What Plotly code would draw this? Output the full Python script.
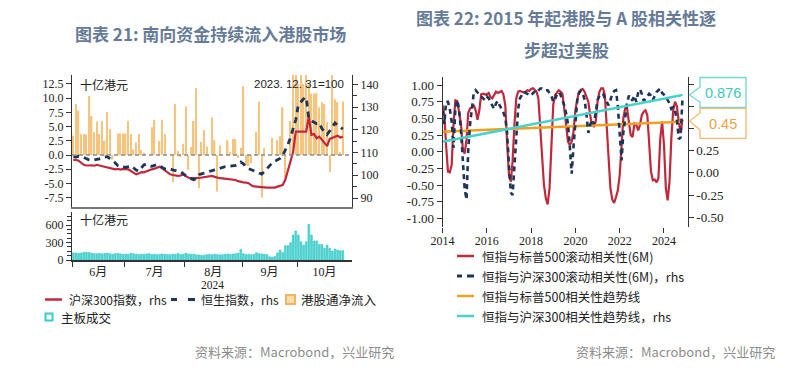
import plotly.graph_objects as go
import pandas as pd

W, H = 800, 377
def px(x): return x / W
def py(y): return 1 - y / H

# ---------------- Left chart data (daily, trading days from 2024-06-03) ----------------
flow_net = [3.4, 9.0, 7.8, 3.7, 3.7, 3.6, 10.4, 6.9, 4.0, 5.9, 3.7, 6.0, 2.5, 7.6, 4.6, -0.8, 0.0, 3.8, 3.8, 3.8,
            3.8, 6.0, 3.7, 1.0, 2.2, 3.7, 0.9, 0.4, 0.0, 0.0, 4.9, 6.2, 0.0, 2.5, 6.2, 3.7, 0.0, 0.0, -4.8, 9.0,
            0.7, -0.3, 2.0, 8.6, -2.6, 1.4, 6.0, 11.8, -5.8, 2.3, 4.4, 1.5, 0.0, 6.6, 2.6, -6.4, 1.7, 0.0, 0.0, 2.6,
            0.5, 2.8, 2.8, -0.5, 1.3, 12.1, -1.9, -1.9, -1.5, 0.0, 4.1, 9.4, -7.5, 1.2, 0.0, 0.0, 3.0, 0.0, 2.6, 3.3,
            8.4, -4.0, 0.0, 6.0, 14.5, 14.5, 12.5, 14.5, 12.5, 14.5, 12.5, 10.8, 10.8, 10.9, 8.4, 9.3, 9.0, 5.8, -3.0, 14.5,
            9.8, 9.3, 0.5, 9.4]
csi300 = [106.6, 106.8, 106.4, 105.6, 104.6, 104.3, 104.5, 104.4, 104.2, 104.6, 104.3, 104.0, 103.8, 103.5, 103.3, 102.9, 102.6, 102.8, 102.5, 102.8,
          102.7, 102.6, 101.9, 101.2, 100.4, 100.8, 101.4, 101.3, 101.8, 102.2, 102.6, 102.9, 103.4, 103.8, 103.0, 102.2, 101.3, 100.4, 100.1, 99.9,
          99.7, 99.9, 100.4, 99.6, 98.9, 98.8, 98.6, 98.7, 98.8, 99.0, 99.2, 99.5, 99.4, 99.7, 99.3, 98.9, 98.7, 98.6, 98.5, 98.4,
          98.3, 98.3, 97.9, 97.4, 97.0, 96.9, 96.8, 96.5, 95.6, 95.1, 95.0, 94.8, 94.7, 94.7, 94.6, 94.5, 94.4, 94.6, 95.0, 95.3,
          95.7, 98.0, 102.0, 105.5, 110.2, 119.2, 119.2, 119.2, 119.2, 119.2, 125.9, 117.8, 118.1, 116.3, 117.0, 115.5, 114.0, 112.8, 116.0, 116.5,
          117.0, 117.4, 116.6, 116.9]
hsi = [108.1, 108.0, 108.4, 108.3, 107.8, 107.2, 106.8, 106.6, 106.7, 107.0, 107.2, 107.4, 108.0, 108.2, 107.3, 106.8, 105.5, 104.2, 103.6, 103.7,
       103.5, 103.8, 104.2, 103.3, 102.3, 101.8, 103.2, 104.6, 104.9, 104.2, 103.9, 104.4, 104.7, 104.0, 103.2, 102.8, 102.5, 102.8, 102.4, 102.0,
       101.8, 101.6, 100.6, 99.6, 98.9, 98.5, 98.0, 98.6, 100.2, 100.6, 101.0, 101.5, 101.8, 102.1, 102.4, 102.7, 103.1, 103.5, 103.8, 103.9,
       104.0, 104.2, 104.3, 104.9, 105.8, 105.0, 103.6, 102.9, 102.4, 101.8, 101.3, 101.0, 100.5, 101.6, 102.9, 104.4, 105.4, 106.2, 106.9, 107.4,
       108.6, 110.8, 113.5, 116.5, 120.0, 124.4, 131.0, 132.4, 133.6, 134.3, 125.0, 124.0, 123.5, 122.7, 123.0, 120.5, 119.2, 117.9, 119.5, 121.5,
       123.0, 122.0, 121.0, 120.3]
turnover = [125, 118, 115, 120, 132, 135, 128, 118, 112, 108, 115, 105, 112, 120, 108, 100, 110, 115, 105, 100,
            102, 98, 115, 110, 100, 95, 98, 100, 105, 110, 95, 100, 92, 98, 105, 100, 95, 90, 102, 98,
            110, 95, 100, 118, 105, 98, 102, 90, 85, 80, 82, 92, 98, 90, 100, 95, 88, 92, 100, 105,
            95, 102, 110, 115, 183, 110, 95, 100, 90, 98, 125, 110, 105, 100, 95, 55, 50, 60, 120, 171,
            130, 245, 245, 297, 428, 497, 428, 314, 257, 314, 611, 428, 326, 326, 268, 268, 200, 257, 200, 154,
            188, 171, 160, 160]
n = len(flow_net)
idx = list(range(n))
dates = pd.bdate_range('2024-06-03', periods=n)
month_names = ['6月', '7月', '8月', '9月', '10月']
x_lo, x_hi = -0.5, 106.5
starts = [i for i in range(1, n) if dates[i].month != dates[i - 1].month]
bounds = [x_lo] + [s - 0.5 for s in starts]
centers = [(bounds[k] + (bounds[k + 1] if k + 1 < len(bounds) else x_hi)) / 2 for k in range(len(bounds))]

left_ticks = [-7.5, -5.0, -2.5, 0.0, 2.5, 5.0, 7.5, 10.0, 12.5]
right_ticks = [90, 100, 110, 120, 130, 140]

# ---------------- Right chart data (monthly) ----------------
corr_spx = [0.70, 0.55, 0.10, -0.30, -0.31, -0.20, 0.40, 0.77, 0.76, 0.62, 0.42, 0.05,
            -0.03, 0.18, 0.58, 0.65, 0.66, 0.70, 0.62, 0.48, 0.62, 0.86, 0.87, 0.86,
            0.86, 0.88, 0.82, 0.80, 0.86, 0.90, 0.88, 0.90, 0.91, 0.86, 0.70, 0.15,
            -0.35, -0.45, -0.15, 0.40, 0.80, 0.90, 0.91, 0.90, 0.89, 0.90, 0.92, 0.91,
            0.94, 0.95, 0.93, 0.90, 0.80, 0.35, -0.10, -0.50, -0.70, -0.79, -0.55, 0.20,
            0.70, 0.85, 0.88, 0.92, 0.90, 0.87, 0.65, 0.35, 0.15, 0.10, 0.15, 0.30,
            0.62, 0.78, 0.90, 0.93, 0.94, 0.90, 0.83, 0.75, 0.55, 0.40, 0.38, 0.45,
            0.75, 0.90, 0.95, 0.95, 0.85, 0.40, -0.10, -0.55, -0.72, -0.77, -0.68, -0.58,
            -0.35, 0.10, 0.50, 0.65, 0.66, 0.45, 0.25, 0.22, 0.42, 0.40, 0.32, 0.40,
            0.55, 0.60, 0.62, 0.55, 0.20, -0.30, -0.43, -0.42, -0.46, -0.40, 0.20, 0.45,
            0.10, -0.55, -0.73, -0.45, 0.20, 0.62, 0.75, 0.68, 0.45, 0.28, 0.48]
corr_csi = [0.70, 0.55, 0.80, 0.80, 0.72, 0.58, 0.28, 0.72, 0.82, 0.72, 0.48, 0.12,
            -0.18, -0.30, 0.25, 0.55, 0.75, 0.90, 0.93, 0.90, 0.88, 0.86, 0.84, 0.82,
            0.86, 0.84, 0.80, 0.76, 0.72, 0.78, 0.81, 0.76, 0.72, 0.68, 0.62, 0.45,
            0.09, -0.22, -0.25, 0.05, 0.42, 0.72, 0.84, 0.88, 0.91, 0.90, 0.89, 0.88,
            0.87, 0.90, 0.91, 0.90, 0.93, 0.95, 0.95, 0.94, 0.93, 0.93, 0.90, 0.87,
            0.80, 0.83, 0.88, 0.91, 0.88, 0.82, 0.76, 0.67, 0.55, 0.30, -0.01, 0.30,
            0.62, 0.82, 0.90, 0.92, 0.90, 0.82, 0.66, 0.45, 0.54, 0.60, 0.55, 0.70,
            0.82, 0.87, 0.88, 0.89, 0.84, 0.80, 0.76, 0.82, 0.89, 0.92, 0.93, 0.75,
            0.42, 0.14, 0.45, 0.62, 0.78, 0.87, 0.82, 0.82, 0.87, 0.80, 0.90, 0.94,
            0.89, 0.81, 0.83, 0.86, 0.89, 0.87, 0.82, 0.86, 0.91, 0.93, 0.95, 0.90,
            0.88, 0.86, 0.82, 0.78, 0.72, 0.74, 0.70, 0.60, 0.38, 0.40, 0.84]
mdates = pd.date_range('2014-01-01', periods=len(corr_spx), freq='MS')
trend_spx = [0.30, 0.45]
trend_csi = [0.35, 0.876]
trend_x = [mdates[0], mdates[-1]]
year_ticks = ['2014', '2016', '2018', '2020', '2022', '2024']
r_left_ticks = [-1.0, -0.75, -0.5, -0.25, 0.0, 0.25, 0.5, 0.75, 1.0]
r_right_ticks = [-0.5, -0.25, 0.0, 0.25, 0.5, 0.75, 1.0]

RED = '#C0283C'
NAVY = '#1D3557'
ORANGE_BAR = '#F5C47E'
TEAL_BAR = '#52D6D4'
ORANGE = '#F0A020'
TEAL = '#45D3CC'
SERIF = 'Liberation Serif'
CJK = 'Noto Sans CJK SC'
AX = '#333333'

fig = go.Figure()
fig.add_trace(go.Bar(x=idx, y=flow_net, xaxis='x', yaxis='y', marker=dict(color=ORANGE_BAR, line=dict(width=0)),
                     width=0.55, name='港股通净流入', showlegend=False))
fig.add_trace(go.Scatter(x=idx, y=csi300, xaxis='x', yaxis='y2', mode='lines', line=dict(color=RED, width=2.2),
                         name='沪深300指数, rhs', showlegend=False))
fig.add_trace(go.Scatter(x=idx, y=hsi, xaxis='x', yaxis='y2', mode='lines',
                         line=dict(color=NAVY, width=2.8, dash='6px,5px'), name='恒生指数, rhs', showlegend=False))
fig.add_trace(go.Bar(x=idx, y=turnover, xaxis='x2', yaxis='y3', marker=dict(color=TEAL_BAR, line=dict(color='#2EC2C0', width=0.5)),
                     width=0.7, name='主板成交', showlegend=False))

fig.add_trace(go.Scatter(x=mdates, y=corr_spx, xaxis='x3', yaxis='y4', mode='lines', line=dict(color=RED, width=2.2),
                         name='恒指与标普500滚动相关性(6M)', showlegend=False))
fig.add_trace(go.Scatter(x=mdates, y=corr_csi, xaxis='x3', yaxis='y5', mode='lines',
                         line=dict(color=NAVY, width=2.6, dash='5px,4px'), name='恒指与沪深300滚动相关性(6M), rhs', showlegend=False))
fig.add_trace(go.Scatter(x=trend_x, y=trend_spx, xaxis='x3', yaxis='y4', mode='lines', line=dict(color=ORANGE, width=2.5),
                         name='恒指与标普500相关性趋势线', showlegend=False))
fig.add_trace(go.Scatter(x=trend_x, y=trend_csi, xaxis='x3', yaxis='y5', mode='lines', line=dict(color=TEAL, width=2.5),
                         name='恒指与沪深300相关性趋势线, rhs', showlegend=False))

tf = dict(family=SERIF, size=12, color='#222')
common = dict(showgrid=False, zeroline=False)
# right-axis labels of the right chart that sit behind the callout boxes are left blank
r_right_text = [f'{v:.2f}' if v < 0.45 else '' for v in r_right_ticks]
fig.update_layout(
    width=W, height=H, margin=dict(l=0, r=0, t=0, b=0, autoexpand=False),
    paper_bgcolor='white', plot_bgcolor='white', bargap=0.3, showlegend=False,
    xaxis=dict(domain=[px(72), px(352)], range=[x_lo, x_hi], anchor='y', showticklabels=False, ticks='',
               showline=True, linecolor='#777', linewidth=2, **common),
    yaxis=dict(domain=[py(207), py(75)], range=[-9.14, 14.08], anchor='x', tickmode='array', tickvals=left_ticks,
               ticktext=[f'{v:.1f}' for v in left_ticks], ticks='outside', ticklen=5, tickcolor=AX,
               showline=True, linecolor=AX, linewidth=1, tickfont=tf, **common),
    yaxis2=dict(overlaying='y', side='right', anchor='x', range=[86.04, 144.09], tickmode='array', tickvals=right_ticks,
                ticktext=[str(v) for v in right_ticks], ticks='outside', ticklen=5, tickcolor=AX,
                minor=dict(tickmode='array', tickvals=[95, 105, 115, 125, 135], ticks='outside', ticklen=4, tickcolor=AX),
                showline=True, linecolor=AX, linewidth=1, tickfont=tf, **common),
    xaxis2=dict(domain=[px(72), px(352)], range=[x_lo, x_hi], anchor='y3', tickmode='array', tickvals=centers,
                ticktext=month_names, ticks='', ticklabelstandoff=0,
                minor=dict(tickmode='array', tickvals=bounds, ticks='outside', ticklen=5, tickcolor=AX),
                showline=True, linecolor=AX, linewidth=1.5, tickfont=dict(family=SERIF + ', ' + CJK, size=12, color='#222'), **common),
    yaxis3=dict(domain=[py(260), py(212)], range=[0, 823], anchor='x2', tickmode='array', tickvals=[0, 300, 600],
                ticktext=['0', '300', '600'], ticks='outside', ticklen=5, tickcolor=AX,
                minor=dict(tickmode='array', tickvals=[75, 150, 225, 375, 450, 525, 675, 750], ticks='outside', ticklen=4, tickcolor=AX),
                showline=True, linecolor=AX, linewidth=1, tickfont=tf, **common),
    xaxis3=dict(domain=[px(442.5), px(687.7)], type='date', range=['2014-01-01', '2025-01-26'], anchor='y4',
                tickmode='array', tickvals=[f'{y}-01-01' for y in year_ticks], ticktext=year_ticks,
                ticks='outside', ticklen=5, tickcolor=AX, showline=False, tickfont=tf, ticklabelstandoff=-2, **common),
    yaxis4=dict(domain=[py(227), py(77)], range=[-1.13, 1.12], anchor='x3', tickmode='array', tickvals=r_left_ticks,
                ticktext=[f'{v:.2f}' for v in r_left_ticks], ticks='outside', ticklen=5, tickcolor=AX,
                showline=True, linecolor=AX, linewidth=1, tickfont=dict(family=SERIF, size=13, color='#222'), **common),
    yaxis5=dict(overlaying='y4', side='right', anchor='x3', range=[-0.609, 1.079], tickmode='array', tickvals=r_right_ticks,
                ticktext=r_right_text, ticks='outside', ticklen=5, tickcolor=AX,
                showline=True, linecolor=AX, linewidth=1, tickfont=dict(family=SERIF, size=13, color='#222'), **common),
)

shapes = []
shapes.append(dict(type='line', xref='x domain', yref='y', x0=0, x1=1, y0=0, y1=0,
                   line=dict(color='#8a8a8a', width=1.5, dash='4px,3px')))

def hline(x0, x1, y, color, width=2.5):
    return dict(type='line', xref='paper', yref='paper', x0=px(x0), x1=px(x1), y0=py(y), y1=py(y),
                line=dict(color=color, width=width))

def rect(x0, x1, y0, y1, fill, line, lw=1.5):
    return dict(type='rect', xref='paper', yref='paper', x0=px(x0), x1=px(x1), y0=py(y1), y1=py(y0),
                fillcolor=fill, line=dict(color=line, width=lw))

LROW1, LROW2 = 299.5, 317
# left legend symbols
shapes.append(hline(45, 62, LROW1, RED, 2.5))
shapes.append(hline(171, 177, LROW1, NAVY, 3))
shapes.append(hline(188, 195, LROW1, NAVY, 3))
shapes.append(rect(286, 295, LROW1 - 4.5, LROW1 + 4.5, '#F8DCAE', '#F2B45E', 2))
shapes.append(rect(45.5, 52.5, LROW2 - 3.5, LROW2 + 3.5, 'white', '#35CFCB', 2))
# right legend symbols
shapes.append(hline(457, 474, 256, RED, 2.5))
shapes.append(hline(457, 462, 276, NAVY, 3))
shapes.append(hline(467, 474, 276, NAVY, 3))
shapes.append(hline(457, 474, 296, ORANGE, 2.5))
shapes.append(hline(457, 474, 316, TEAL, 2.5))

def callout(x0, x1, y0, y1, tipx, tipy, n0, n1, color):
    pts = [(x0, y0), (x1, y0), (x1, y1), (x0, y1), (x0, n1), (tipx, tipy), (x0, n0)]
    path = 'M ' + ' L '.join(f'{px(a):.5f},{py(b):.5f}' for a, b in pts) + ' Z'
    return dict(type='path', xref='paper', yref='paper', path=path, fillcolor='white',
                line=dict(color=color, width=1.3), layer='above')

shapes.append(callout(700, 746, 77.5, 107.5, 689.5, 95, 87, 102, '#6FD8D2'))
shapes.append(callout(700, 746, 108.3, 138.3, 689.5, 121, 113, 130, '#F3BC70'))

annotations = []
def txt(x, y, s, size=12, color='#222', family=CJK, xanchor='left', weight=None):
    f = dict(family=family, size=size, color=color)
    if weight:
        f['weight'] = weight
    annotations.append(dict(x=px(x), y=py(y), xref='paper', yref='paper', text=s, showarrow=False,
                            xanchor=xanchor, yanchor='middle', font=f))

TITLE_C = '#667B97'
txt(210, 33, '图表 21: 南向资金持续流入港股市场', 17, TITLE_C, CJK, 'center', 'bold')
txt(566, 17, '图表 22: 2015 年起港股与 A 股相关性逐', 17, TITLE_C, CJK, 'center', 'bold')
txt(566, 50, '步超过美股', 17, TITLE_C, CJK, 'center', 'bold')

txt(78, 84, '十亿港元', 12, '#222')
txt(346, 84, '2023. 12. 31=100', 11.5, '#222', 'Liberation Sans', 'right')
txt(78, 219, '十亿港元', 12, '#222')
txt(212, 285, '2024', 11.5, '#222', SERIF, 'center')

txt(67, LROW1, '沪深300指数，rhs', 12)
txt(199, LROW1, '恒生指数，rhs', 12)
txt(299, LROW1, '港股通净流入', 12.5)
txt(59, LROW2, '主板成交', 12.5)

txt(480, 256, '恒指与标普500滚动相关性(6M)', 12.5)
txt(480, 276, '恒指与沪深300滚动相关性(6M)，rhs', 12.5)
txt(480, 296, '恒指与标普500相关性趋势线', 12.5)
txt(480, 316, '恒指与沪深300相关性趋势线，rhs', 12.5)

txt(723, 92.5, f'{trend_csi[-1]:.3f}', 14.5, '#3EC7C0', 'Liberation Sans', 'center')
txt(723, 123.5, f'{trend_spx[-1]:.2f}', 14.5, '#E9A443', 'Liberation Sans', 'center')

txt(294, 351, '资料来源：Macrobond，兴业研究', 13, '#8c8c8c', CJK, 'center')
txt(675, 351, '资料来源：Macrobond，兴业研究', 13, '#8c8c8c', CJK, 'center')

fig.update_layout(shapes=shapes, annotations=annotations)
fig.write_html('out.html', config={'displayModeBar': False},
               post_script="document.body.style.margin='0';document.body.style.overflow='hidden';")
